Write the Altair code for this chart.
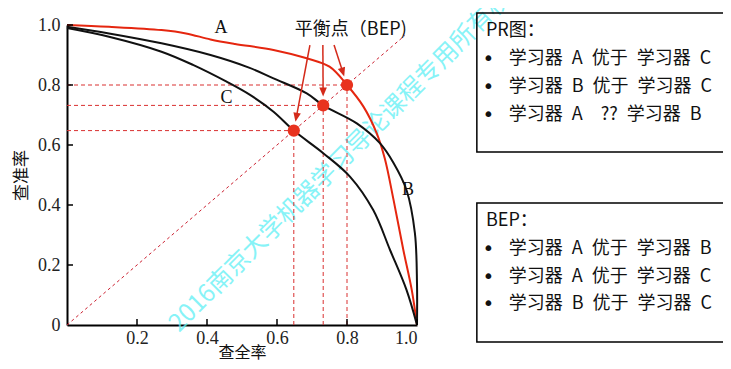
import math
import altair as alt
import pandas as pd

# ---------------- data ----------------
a_recall = [0.0, 0.12, 0.27, 0.34, 0.41, 0.48, 0.59, 0.685, 0.75, 0.80, 0.847, 0.885, 0.908, 0.933, 0.961, 0.985, 1.0]
a_precision = [1.0, 0.994, 0.983, 0.972, 0.952, 0.937, 0.917, 0.889, 0.861, 0.80, 0.728, 0.639, 0.555, 0.417, 0.25, 0.117, 0.0]
b_recall = [0.0, 0.12, 0.27, 0.41, 0.52, 0.59, 0.685, 0.732, 0.828, 0.894, 0.933, 0.97, 0.994, 1.0, 1.0]
b_precision = [0.994, 0.972, 0.939, 0.9, 0.858, 0.822, 0.772, 0.732, 0.672, 0.606, 0.54, 0.45, 0.306, 0.139, 0.0]
c_recall = [0.0, 0.12, 0.27, 0.36, 0.456, 0.523, 0.59, 0.648, 0.733, 0.809, 0.875, 0.923, 0.97, 1.0]
c_precision = [0.99, 0.961, 0.911, 0.867, 0.811, 0.767, 0.711, 0.648, 0.572, 0.494, 0.383, 0.25, 0.117, 0.0]

learners = ["A", "B", "C"]
bep_values = [0.80, 0.732, 0.648]
arrow_start_x = [0.763, 0.731, 0.694]
arrow_start_y = [0.933, 0.933, 0.933]

label_text = ["A", "B", "C"]
label_x = [0.44, 0.974, 0.456]
label_y = [0.99, 0.45, 0.757]

x_ticks = [0.2, 0.4, 0.6, 0.8, 1.0]
y_ticks = [0.0, 0.2, 0.4, 0.6, 0.8, 1.0]

annotation_text = "平衡点（BEP)"
watermark_text = "2016南京大学机器学习导论课程专用所有权保留"

SP = "\u2002"
pr_header = "PR图："
pr_lines = ["学习器 A 优于 学习器 C", "学习器 B 优于 学习器 C", "学习器 A  ?? 学习器 B"]
bep_header = "BEP："
bep_lines = ["学习器 A 优于 学习器 B", "学习器 A 优于 学习器 C", "学习器 B 优于 学习器 C"]

# ---------------- layout / style ----------------
W, H = 350, 300
RED = "#E5260F"
DOT = "#E8321E"
GUIDE = "#D93030"
CJK = "Noto Sans CJK SC"
SERIF = "Liberation Serif"

xs = alt.Scale(domain=[0, 1], nice=False, zero=False)
ys = alt.Scale(domain=[0, 1], nice=False, zero=False)

x_axis = alt.Axis(values=x_ticks, format=".1f", title="查全率", tickSize=0, labelPadding=4,
                  labelFont=SERIF, labelFontSize=18, labelColor="#222", domainColor="#000",
                  domainWidth=2, grid=False, titleFont=CJK, titleFontSize=16,
                  titleFontWeight="normal", titleY=27, titleBaseline="middle", titleColor="#111")
y_axis = alt.Axis(values=y_ticks, labelExpr="datum.value == 0 ? '0' : format(datum.value, '.1f')",
                  title="查准率", tickSize=0, labelPadding=7, labelFont=SERIF, labelFontSize=18,
                  labelColor="#222", domainColor="#000", domainWidth=2, grid=False,
                  titleFont=CJK, titleFontSize=17, titleFontWeight="normal", titleX=-46,
                  titleBaseline="middle", titleColor="#111")


def X(field):
    return alt.X(field, type="quantitative", scale=xs, axis=x_axis)


def Y(field):
    return alt.Y(field, type="quantitative", scale=ys, axis=y_axis)


def spaced(s):
    return s.replace(" ", SP)


# curves
rows = []
for name, rr, pp in [("A", a_recall, a_precision), ("B", b_recall, b_precision), ("C", c_recall, c_precision)]:
    for i, (r, p) in enumerate(zip(rr, pp)):
        rows.append({"learner": name, "recall": r, "precision": p, "order": i})
curves_df = pd.DataFrame(rows)

bep_df = pd.DataFrame({"learner": learners, "v": bep_values, "zero": [0.0] * 3})

# arrows (computed from start positions to the BEP dots)
GAP, HEAD = 9.0, 8.0
arrow_rows = []
for name, sx, sy, v in zip(learners, arrow_start_x, arrow_start_y, bep_values):
    dx = (v - sx) * W
    dy = -(v - sy) * H
    L = math.hypot(dx, dy)
    ux, uy = dx / L, dy / L
    tip = L - GAP
    base = tip - HEAD + 1
    arrow_rows.append({
        "sx": sx, "sy": sy,
        "bx": sx + ux * base / W, "by": sy - uy * base / H,
        "tx": sx + ux * tip / W, "ty": sy - uy * tip / H,
        "angle": (-math.degrees(math.atan2(dx, dy))) % 360,
    })
arrow_df = pd.DataFrame(arrow_rows)

diag_df = pd.DataFrame({"x": [0.0, 0.965], "y": [0.0, 0.965]})

tick_len_x = 6.0 / H
tick_len_y = 6.0 / W
xt_df = pd.DataFrame({"v": x_ticks, "a": [0.0] * len(x_ticks), "b": [tick_len_x] * len(x_ticks)})
yt_df = pd.DataFrame({"v": y_ticks[1:], "a": [0.0] * (len(y_ticks) - 1), "b": [tick_len_y] * (len(y_ticks) - 1)})

labels_df = pd.DataFrame({"t": label_text, "x": label_x, "y": label_y})

# text boxes (right side, positioned in plot units)
BOX_L, BOX_R = 1.171, 1.886
TXT_HEAD_X, BULLET_X, TXT_X = 1.197, 1.204, 1.262
LINE = 0.0925
box_tops = [1.04, 0.407]
box_bottoms = [0.577, -0.057]
box_df = pd.DataFrame({"x": [BOX_L] * 2, "x2": [BOX_R] * 2, "y": box_tops, "y2": box_bottoms})

box_text_rows = []
bullet_rows = []
for top, header, lines in zip(box_tops, [pr_header, bep_header], [pr_lines, bep_lines]):
    hy = top - 0.061
    box_text_rows.append({"t": header, "x": TXT_HEAD_X, "y": hy})
    for k, ln in enumerate(lines):
        y = hy - LINE * (k + 1)
        box_text_rows.append({"t": spaced(ln), "x": TXT_X, "y": y})
        bullet_rows.append({"t": "•", "x": BULLET_X, "y": y})
box_text_df = pd.DataFrame(box_text_rows)
bullet_df = pd.DataFrame(bullet_rows)

wm_df = pd.DataFrame({"t": [watermark_text], "x": [0.32], "y": [-0.027]})
ann_df = pd.DataFrame({"t": [annotation_text], "x": [0.651], "y": [0.983]})

# ---------------- layers ----------------
watermark = alt.Chart(wm_df).mark_text(
    font=CJK, fontSize=24.5, color="#5FF0F5", opacity=0.75, angle=315, align="left",
    baseline="alphabetic").encode(x=X("x"), y=Y("y"), text="t:N")

diag = alt.Chart(diag_df).mark_line(color="#CC2030", strokeWidth=1, strokeDash=[3, 3]).encode(
    x=X("x"), y=Y("y"))

hguide = alt.Chart(bep_df).mark_rule(color=GUIDE, strokeWidth=1, strokeDash=[4, 3]).encode(
    x=X("zero"), x2="v:Q", y=Y("v"))
vguide = alt.Chart(bep_df).mark_rule(color=GUIDE, strokeWidth=1, strokeDash=[4, 3]).encode(
    x=X("v"), y=Y("zero"), y2="v:Q")

curves = alt.Chart(curves_df).mark_line(strokeWidth=2, interpolate="catmull-rom").encode(
    x=X("recall"), y=Y("precision"),
    color=alt.Color("learner:N", scale=alt.Scale(domain=["A", "B", "C"], range=[RED, "#111", "#111"]),
                    legend=None),
    order="order:Q", detail="learner:N")

dots = alt.Chart(bep_df).mark_circle(size=150, color=DOT, opacity=1).encode(x=X("v"), y=Y("v"))

arrow_lines = alt.Chart(arrow_df).mark_rule(color="#D42A1A", strokeWidth=1.5).encode(
    x=X("sx"), y=Y("sy"), x2="bx:Q", y2="by:Q")
arrow_heads = alt.Chart(arrow_df).mark_point(
    shape="M0,0L-0.42,-1L0.42,-1Z", filled=True, size=324, color="#D42A1A", opacity=1).encode(
    x=X("tx"), y=Y("ty"), angle=alt.Angle("angle:Q", scale=None))

xticks = alt.Chart(xt_df).mark_rule(color="#000", strokeWidth=1.5).encode(
    x=X("v"), y=Y("a"), y2="b:Q")
yticks = alt.Chart(yt_df).mark_rule(color="#000", strokeWidth=1.5).encode(
    y=Y("v"), x=X("a"), x2="b:Q")

curve_labels = alt.Chart(labels_df).mark_text(
    font=SERIF, fontSize=18, color="#111", align="center", baseline="middle").encode(
    x=X("x"), y=Y("y"), text="t:N")

annotation = alt.Chart(ann_df).mark_text(
    font=CJK, fontSize=18, color="#111", align="left", baseline="middle").encode(
    x=X("x"), y=Y("y"), text="t:N")

boxes = alt.Chart(box_df).mark_rect(fill="white", fillOpacity=0, stroke="#000", strokeWidth=1.5).encode(
    x=X("x"), x2="x2:Q", y=Y("y"), y2="y2:Q")
box_texts = alt.Chart(box_text_df).mark_text(
    font=CJK, fontSize=18, color="#111", align="left", baseline="middle").encode(
    x=X("x"), y=Y("y"), text="t:N")
bullets = alt.Chart(bullet_df).mark_text(
    font="DejaVu Sans", fontSize=20, color="#111", align="center", baseline="middle").encode(
    x=X("x"), y=Y("y"), text="t:N")

chart = alt.layer(
    watermark, diag, hguide, vguide, curves, dots, arrow_lines, arrow_heads,
    xticks, yticks, curve_labels, annotation, boxes, box_texts, bullets
).properties(
    width=W, height=H,
    autosize=alt.AutoSizeParams(type="none"),
    padding={"left": 59, "top": 17, "right": 306, "bottom": 36},
    background="white",
).configure_view(strokeWidth=0)

chart.save("out.html", embed_options={"renderer": "svg", "actions": False})
